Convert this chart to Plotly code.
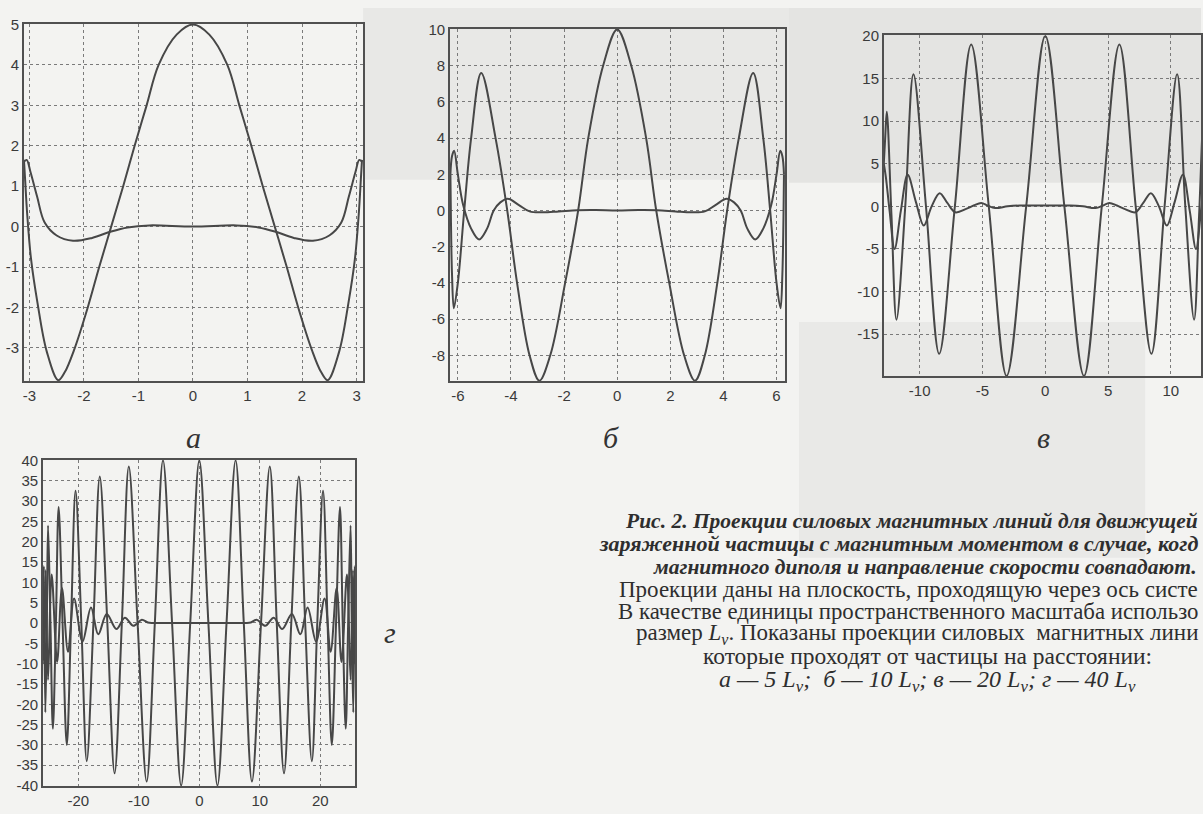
import plotly.graph_objects as go

W, H = 1203, 814

# ---------------- data ----------------
# panel а (R = 5 L)
a_big_x = [-3.1, -3.08, -3.04, -2.97, -2.85, -2.68, -2.47, -2.35, -2.18, -1.93, -1.72, -1.5, -1.28, -1.07, -0.85, -0.63,
           -0.3, 0.0, 0.3, 0.63, 0.85, 1.07, 1.28, 1.5, 1.72, 1.93, 2.18, 2.35, 2.47, 2.68, 2.85, 2.97, 3.04, 3.08, 3.1]
a_big_y = [1.65, 1.2, 0.3, -0.8, -1.9, -3.1, -3.8, -3.6, -3.05, -2.0, -1.0, 0.0, 1.0, 2.0, 3.0, 4.0,
           4.75, 5.0, 4.75, 4.0, 3.0, 2.0, 1.0, 0.0, -1.0, -2.0, -3.05, -3.6, -3.8, -3.1, -1.9, -0.8, 0.3, 1.2, 1.65]
a_small_x = [-3.1, -3.05, -2.98, -2.86, -2.72, -2.5, -2.2, -1.85, -1.5, -1.2, -0.8,
             0.0, 0.8, 1.2, 1.5, 1.85, 2.2, 2.5, 2.72, 2.86, 2.98, 3.05, 3.1]
a_small_y = [1.6, 1.65, 1.35, 0.75, 0.1, -0.22, -0.35, -0.28, -0.12, -0.02, 0.03,
             0.0, 0.03, -0.02, -0.12, -0.28, -0.35, -0.22, 0.1, 0.75, 1.35, 1.65, 1.6]

# panel б (R = 10 L)
b_big_x = [-6.28, -6.26, -6.22, -6.15, -6.0, -5.76, -5.5, -5.12, -4.58, -4.14, -3.77, -3.3, -2.93, -2.52, -1.96, -1.47,
           -1.09, -0.53, 0.0, 0.53, 1.09, 1.47, 1.96, 2.52, 2.93, 3.3, 3.77, 4.14, 4.58, 5.12, 5.5, 5.76, 6.0,
           6.15, 6.22, 6.26, 6.28]
b_big_y = [2.0, -0.5, -3.5, -5.4, -4.0, 0.0, 4.0, 7.6, 4.0, 0.0, -4.0, -8.0, -9.4, -8.0, -4.0, 0.0,
           4.0, 8.0, 10.0, 8.0, 4.0, 0.0, -4.0, -8.0, -9.4, -8.0, -4.0, 0.0, 4.0, 7.6, 4.0, 0.0, -4.0,
           -5.4, -3.5, -0.5, 2.0]
b_small_x = [-6.28, -6.22, -6.14, -6.0, -5.8, -5.5, -5.2, -4.9, -4.65, -4.4, -4.12, -3.7, -3.3, -2.8, -2.2, -1.5, -0.8,
             0.0, 0.8, 1.5, 2.2, 2.8, 3.3, 3.7, 4.12, 4.4, 4.65, 4.9, 5.2, 5.5, 5.8, 6.0, 6.14, 6.22, 6.28]
b_small_y = [2.0, 3.0, 3.3, 2.0, 0.3, -1.0, -1.6, -1.0, 0.0, 0.45, 0.65, 0.3, -0.05, -0.1, -0.05, 0.02, 0.03,
             0.0, 0.03, 0.02, -0.05, -0.1, -0.05, 0.3, 0.65, 0.45, 0.0, -1.0, -1.6, -1.0, 0.3, 2.0, 3.3, 3.0, 2.0]

# panel в (R = 20 L)
c_big_x = [-12.86, -12.75, -12.62, -12.25, -11.85, -11.15, -10.5, -9.5, -8.45, -7.2, -5.9, -4.5, -3.08, -1.52,
           0.0, 1.52, 3.08, 4.5, 5.9, 7.2, 8.45, 9.5, 10.5, 11.15, 11.85, 12.25, 12.62, 12.75, 12.86]
c_big_y = [5.0, 8.0, 11.1, -1.0, -13.3, 0.0, 15.5, 0.0, -17.3, 0.0, 19.0, 0.0, -19.9, 0.0,
           20.0, 0.0, -19.9, 0.0, 19.0, 0.0, -17.3, 0.0, 15.5, 0.0, -13.3, -1.0, 11.1, 8.0, 5.0]
c_small_x = [-12.86, -12.7, -12.4, -12.0, -11.5, -10.96, -10.3, -9.68, -9.05, -8.41, -7.8, -7.17, -6.3, -5.7, -5.1,
             -4.6, -4.0, -3.0, -2.0, 0.0, 2.0, 3.0, 4.0, 4.6, 5.1, 5.7, 6.3, 7.17, 7.8, 8.41, 9.05, 9.68, 10.3,
             10.96, 11.5, 12.0, 12.4, 12.7, 12.86]
c_small_y = [5.0, 3.5, -0.5, -5.0, -0.5, 3.7, 0.5, -2.26, 0.0, 1.55, 0.4, -0.7, -0.3, 0.1, 0.4,
             0.1, -0.2, 0.0, 0.1, 0.1, 0.1, 0.0, -0.2, 0.1, 0.4, 0.1, -0.3, -0.7, 0.4, 1.55, 0.0, -2.26, 0.5,
             3.7, -0.5, -5.0, -0.5, 3.5, 5.0]

# panel г (R = 40 L)
d_big_x = [-25.8, -25.7, -25.45, -25.2, -25.0, -24.6, -24.2, -23.7, -23.25, -22.6, -21.9, -21.2, -20.45, -19.5,
           -18.6, -17.5, -16.45, -15.2, -14.0, -12.8, -11.65, -10.2, -8.7, -7.35, -6.0, -4.5, -3.0, -1.5,
           0.0, 1.5, 3.0, 4.5, 6.0, 7.35, 8.7, 10.2, 11.65, 12.8, 14.0, 15.2, 16.45, 17.5, 18.6, 19.5,
           20.45, 21.2, 21.9, 22.6, 23.25, 23.7, 24.2, 24.6, 25.0, 25.2, 25.45, 25.7, 25.8]
d_big_y = [-5.0, 14.0, -22.0, 0.0, 24.0, 0.0, -26.0, 0.0, 28.5, 0.0, -30.0, 0.0, 32.5, 0.0,
           -34.0, 0.0, 36.0, 0.0, -37.0, 0.0, 38.5, 0.0, -39.0, 0.0, 40.0, 0.0, -40.0, 0.0,
           40.0, 0.0, -40.0, 0.0, 40.0, 0.0, -39.0, 0.0, 38.5, 0.0, -37.0, 0.0, 36.0, 0.0, -34.0, 0.0,
           32.5, 0.0, -30.0, 0.0, 28.5, 0.0, -26.0, 0.0, 24.0, 0.0, -22.0, 14.0, -5.0]
d_small_x = [-25.8, -25.65, -25.4, -25.0, -24.4, -23.5, -22.7, -21.7, -20.7, -19.3, -17.9, -16.7, -15.3, -13.7,
             -12.3, -10.9, -9.5, -8.5, -7.5, 0.0, 7.5, 8.5, 9.5, 10.9, 12.3, 13.7, 15.3, 16.7, 17.9, 19.3,
             20.7, 21.7, 22.7, 23.5, 24.4, 25.0, 25.4, 25.65, 25.8]
d_small_y = [-5.0, -10.0, 13.0, -14.0, 11.9, -9.6, 8.6, -7.1, 6.0, -4.6, 3.8, -2.8, 2.2, -1.5,
             1.3, -0.7, 0.8, 0.1, 0.0, 0.0, 0.0, 0.1, 0.8, -0.7, 1.3, -1.5, 2.2, -2.8, 3.8, -4.6,
             6.0, -7.1, 8.6, -9.6, 11.9, -14.0, 13.0, -10.0, -5.0]

# tick labels
a_xticks = [-3, -2, -1, 0, 1, 2, 3]
a_yticks = [-3, -2, -1, 0, 1, 2, 3, 4, 5]
b_xticks = [-6, -4, -2, 0, 2, 4, 6]
b_yticks = [-8, -6, -4, -2, 0, 2, 4, 6, 8, 10]
c_xticks = [-10, -5, 0, 5, 10]
c_yticks = [-15, -10, -5, 0, 5, 10, 15, 20]
d_xticks = [-20, -10, 0, 10, 20]
d_yticks = [-40, -35, -30, -25, -20, -15, -10, -5, 0, 5, 10, 15, 20, 25, 30, 35, 40]

panel_letters = ["а", "б", "в", "г"]
# caption as it is visible on the page (the right edge of the scan cuts some lines)
caption_lines = [
    "<b><i>Рис. 2. Проекции силовых магнитных линий для движущей</i></b>",
    "<b><i>заряженной частицы с магнитным моментом в случае, когд</i></b>",
    "<b><i>магнитного диполя и направление скорости совпадают.</i></b>",
    "Проекции даны на плоскость, проходящую через ось систе",
    "В качестве единицы пространственного масштаба использо",
    "размер <i>L<sub>ν</sub></i>. Показаны проекции силовых  магнитных лини",
    "которые проходят от частицы на расстоянии:",
    "<i>а — 5 L<sub>ν</sub>;  б — 10 L<sub>ν</sub>; в — 20 L<sub>ν</sub>; г — 40 L<sub>ν</sub></i>",
]

# ---------------- figure ----------------
PAPER = "#f3f3f1"
LINE = dict(color="#474747", width=2)

fig = go.Figure()
series = [
    (a_big_x, a_big_y, "x", "y"), (a_small_x, a_small_y, "x", "y"),
    (b_big_x, b_big_y, "x2", "y2"), (b_small_x, b_small_y, "x2", "y2"),
    (c_big_x, c_big_y, "x3", "y3"), (c_small_x, c_small_y, "x3", "y3"),
    (d_big_x, d_big_y, "x4", "y4"), (d_small_x, d_small_y, "x4", "y4"),
]
for xs, ys, xa, ya in series:
    fig.add_trace(go.Scatter(x=xs, y=ys, xaxis=xa, yaxis=ya, mode="lines",
                             line=dict(LINE, shape="spline", smoothing=1.0),
                             showlegend=False, hoverinfo="skip"))


def px_dom_x(a, b):
    return [a / W, min(b / W, 1.0)]


def px_dom_y(top, bottom):
    return [1 - bottom / H, 1 - top / H]


def axis_style(ticks, rng, dom):
    return dict(domain=dom, range=rng, tickvals=ticks, ticktext=[str(t) for t in ticks],
                showgrid=True, gridcolor="#7a7a7a", griddash="dot", gridwidth=1,
                zeroline=False, showline=True, mirror=True, linecolor="#505050", linewidth=1.5,
                ticks="", tickfont=dict(family="Liberation Sans, Arial, sans-serif", size=15, color="#3a3a3a"),
                fixedrange=True)


layout = dict(
    width=W, height=H, margin=dict(l=0, r=0, t=0, b=0),
    paper_bgcolor=PAPER, plot_bgcolor="rgba(0,0,0,0)",
    showlegend=False,
    xaxis=dict(axis_style(a_xticks, [-3.1, 3.12], px_dom_x(23, 363)), anchor="y"),
    yaxis=dict(axis_style(a_yticks, [-3.82, 5.02], px_dom_y(16, 380)), anchor="x"),
    xaxis2=dict(axis_style(b_xticks, [-6.3, 6.32], px_dom_x(450, 786)), anchor="y2"),
    yaxis2=dict(axis_style(b_yticks, [-9.42, 10.05], px_dom_y(21, 380)), anchor="x2"),
    xaxis3=dict(axis_style(c_xticks, [-12.86, 12.4], px_dom_x(885, 1203)), anchor="y3"),
    yaxis3=dict(axis_style(c_yticks, [-19.92, 20.05], px_dom_y(28, 375)), anchor="x3"),
    xaxis4=dict(axis_style(d_xticks, [-25.85, 25.75], px_dom_x(42, 355)), anchor="y4"),
    yaxis4=dict(axis_style(d_yticks, [-40.2, 40.2], px_dom_y(460, 793)), anchor="x4"),
)
fig.update_layout(**layout)

# scanned-page tone patches (background)
patches = [
    (363, 0, 955, 175, "#e8e8e6"),
    (790, 0, 1203, 178, "#e4e4e2"),
    (800, 320, 1147, 560, "#e9e9e7"),
]
for x0, y0, x1, y1, col in patches:
    fig.add_shape(type="rect", xref="paper", yref="paper", layer="below",
                  x0=x0 / W, x1=x1 / W, y0=1 - y1 / H, y1=1 - y0 / H,
                  fillcolor=col, line=dict(width=0))

# panel letters
letter_pos = [(193, 438), (612, 438), (1045, 438), (390, 636)]
for letter, (lx, ly) in zip(panel_letters, letter_pos):
    fig.add_annotation(xref="paper", yref="paper", x=lx / W, y=1 - ly / H,
                       text="<i>" + letter + "</i>", showarrow=False,
                       font=dict(family="Liberation Serif, Times New Roman, serif", size=30, color="#333"),
                       xanchor="center", yanchor="middle")

# caption: lines cut by the page edge are right-aligned to it, the others centred
caption_sizes = [21.5, 22, 21.5, 23, 22.8, 23, 23.5, 24]
caption_cut = [True, True, False, True, True, True, False, False]
caption_cx = [None, None, 926, None, None, None, 929, 929]
caption_y = [523, 546, 569, 592, 615, 638, 660, 686]
for i, line in enumerate(caption_lines):
    if caption_cut[i]:
        xpos, anchor = 1201 / W, "right"
    else:
        xpos, anchor = caption_cx[i] / W, "center"
    fig.add_annotation(xref="paper", yref="paper", x=xpos, y=1 - caption_y[i] / H,
                       text=line, showarrow=False, borderpad=0,
                       font=dict(family="Liberation Serif, Times New Roman, serif",
                                 size=caption_sizes[i], color="#2e2e2e"),
                       xanchor=anchor, yanchor="middle")

fig.write_html("out.html", config={"displayModeBar": False},
               post_script="document.body.style.margin='0';document.body.style.background='%s';" % PAPER)
